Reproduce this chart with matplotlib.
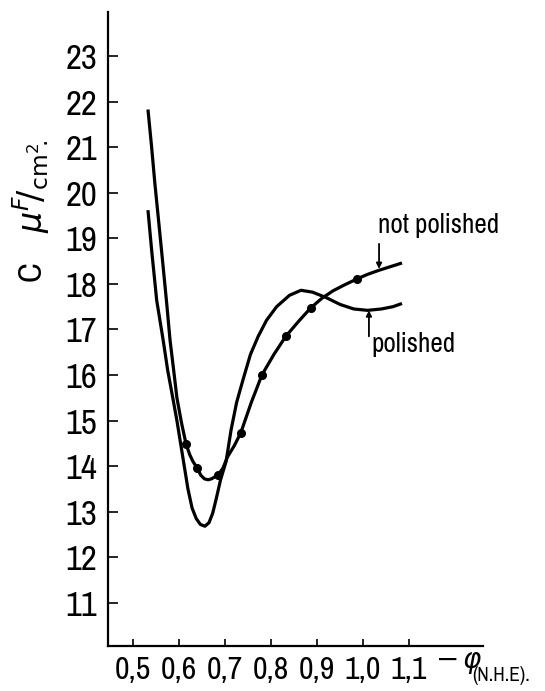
import matplotlib
matplotlib.use('Agg')
import matplotlib.pyplot as plt
from matplotlib import font_manager

# not polished electrode (curve with measured points)
np_x = [0.532, 0.540, 0.547, 0.556, 0.565, 0.573, 0.580, 0.588, 0.595, 0.605, 0.615,
        0.623, 0.630, 0.639, 0.647, 0.655, 0.663, 0.670, 0.684, 0.695, 0.705, 0.720,
        0.734, 0.757, 0.780, 0.806, 0.832, 0.860, 0.886, 0.910, 0.935, 0.960, 0.987,
        1.010, 1.035, 1.060, 1.085]
np_y = [21.83, 21.00, 20.21, 19.30, 18.38, 17.55, 16.77, 16.10, 15.50, 14.95, 14.48,
        14.25, 14.10, 13.96, 13.80, 13.72, 13.70, 13.72, 13.80, 13.95, 14.20, 14.45,
        14.73, 15.40, 16.00, 16.45, 16.85, 17.18, 17.47, 17.68, 17.85, 17.98, 18.11,
        18.21, 18.30, 18.38, 18.46]
np_pts_x = [0.615, 0.639, 0.684, 0.734, 0.780, 0.832, 0.886, 0.987]
np_pts_y = [14.48, 13.96, 13.80, 14.73, 16.00, 16.85, 17.47, 18.11]

# polished electrode
p_x = [0.532, 0.540, 0.551, 0.565, 0.575, 0.586, 0.595, 0.603, 0.611, 0.619, 0.628,
       0.637, 0.646, 0.656, 0.665, 0.673, 0.681, 0.690, 0.702, 0.713, 0.725, 0.739,
       0.755, 0.772, 0.790, 0.812, 0.840, 0.865, 0.890, 0.920, 0.950, 0.980, 1.010,
       1.040, 1.065, 1.085]
p_y = [19.62, 18.74, 17.64, 16.77, 16.10, 15.50, 15.00, 14.50, 14.00, 13.50, 13.08,
       12.85, 12.72, 12.68, 12.76, 12.97, 13.30, 13.70, 14.10, 14.80, 15.40, 15.90,
       16.45, 16.85, 17.20, 17.50, 17.75, 17.86, 17.82, 17.70, 17.55, 17.45, 17.42,
       17.45, 17.50, 17.57]

y_ticks = [11, 12, 13, 14, 15, 16, 17, 18, 19, 20, 21, 22, 23]
x_ticks = [0.5, 0.6, 0.7, 0.8, 0.9, 1.0, 1.1]
x_tick_labels = ['0,5', '0,6', '0,7', '0,8', '0,9', '1,0', '1,1']

# look for a narrow face, the scan uses tall condensed lettering
narrow = None
for f in font_manager.fontManager.ttflist:
    if 'Narrow' in f.name or 'Condensed' in f.name:
        narrow = f.name
        break
if narrow is None:
    narrow = 'DejaVu Sans'
    scale = 0.75
else:
    scale = 1.0
plt.rcParams['font.family'] = [narrow, 'DejaVu Sans']
plt.rcParams['mathtext.fontset'] = 'dejavusans'


def main():
    fig = plt.figure(figsize=(5.45, 6.91), dpi=100)
    ax = fig.add_axes([0.199, 0.0651, 0.687, 0.9175])

    ax.plot(np_x, np_y, '-', color='black', lw=2.3, solid_capstyle='butt')
    ax.plot(np_pts_x, np_pts_y, 'o', color='black', ms=5.5)
    ax.plot(p_x, p_y, '-', color='black', lw=2.3, solid_capstyle='butt')

    ax.set_xlim(0.446, 1.261)
    ax.set_ylim(10.05, 23.97)
    for s in ['top', 'right']:
        ax.spines[s].set_visible(False)
    for s in ['left', 'bottom']:
        ax.spines[s].set_linewidth(1.6)

    ax.set_yticks(y_ticks)
    ax.set_yticklabels([str(t) for t in y_ticks], fontsize=25 * scale)
    ax.set_xticks(x_ticks)
    ax.set_xticklabels(x_tick_labels, fontsize=23 * scale)
    ax.tick_params(axis='y', direction='in', length=7, width=1.2, pad=8)
    ax.tick_params(axis='x', direction='in', length=5, width=1.2, pad=7)

    ax.set_ylabel(r'C    $\mu^{F}\!/_{\mathrm{cm}^{2}\!.}$', fontsize=24 * scale)
    ax.yaxis.set_label_coords(-0.15, 0.685)

    # axis name at the end of the x axis
    ax.text(0.872, -0.027, r'$-\,\varphi$', transform=ax.transAxes,
            fontsize=20, ha='left', va='center', clip_on=False)
    ax.text(0.972, -0.047, '(N.H.E).', transform=ax.transAxes,
            fontsize=14, fontweight='bold', ha='left', va='center',
            clip_on=False)

    # curve labels with short vertical pointers
    ax.text(1.033, 19.29, 'not polished', fontsize=19.5 * scale, fontweight='bold',
            ha='left', va='center')
    ax.annotate('', xy=(1.035, 18.33), xytext=(1.035, 18.88),
                arrowprops=dict(arrowstyle='-|>', color='black', lw=1.3,
                                shrinkA=0, shrinkB=0, mutation_scale=8))
    ax.text(1.019, 16.66, 'polished', fontsize=19.5 * scale, fontweight='bold',
            ha='left', va='center')
    ax.annotate('', xy=(1.013, 17.42), xytext=(1.013, 16.85),
                arrowprops=dict(arrowstyle='-|>', color='black', lw=1.3,
                                shrinkA=0, shrinkB=0, mutation_scale=8))

    fig.savefig('out.png', dpi=100, facecolor='w')


if __name__ == '__main__':
    main()
